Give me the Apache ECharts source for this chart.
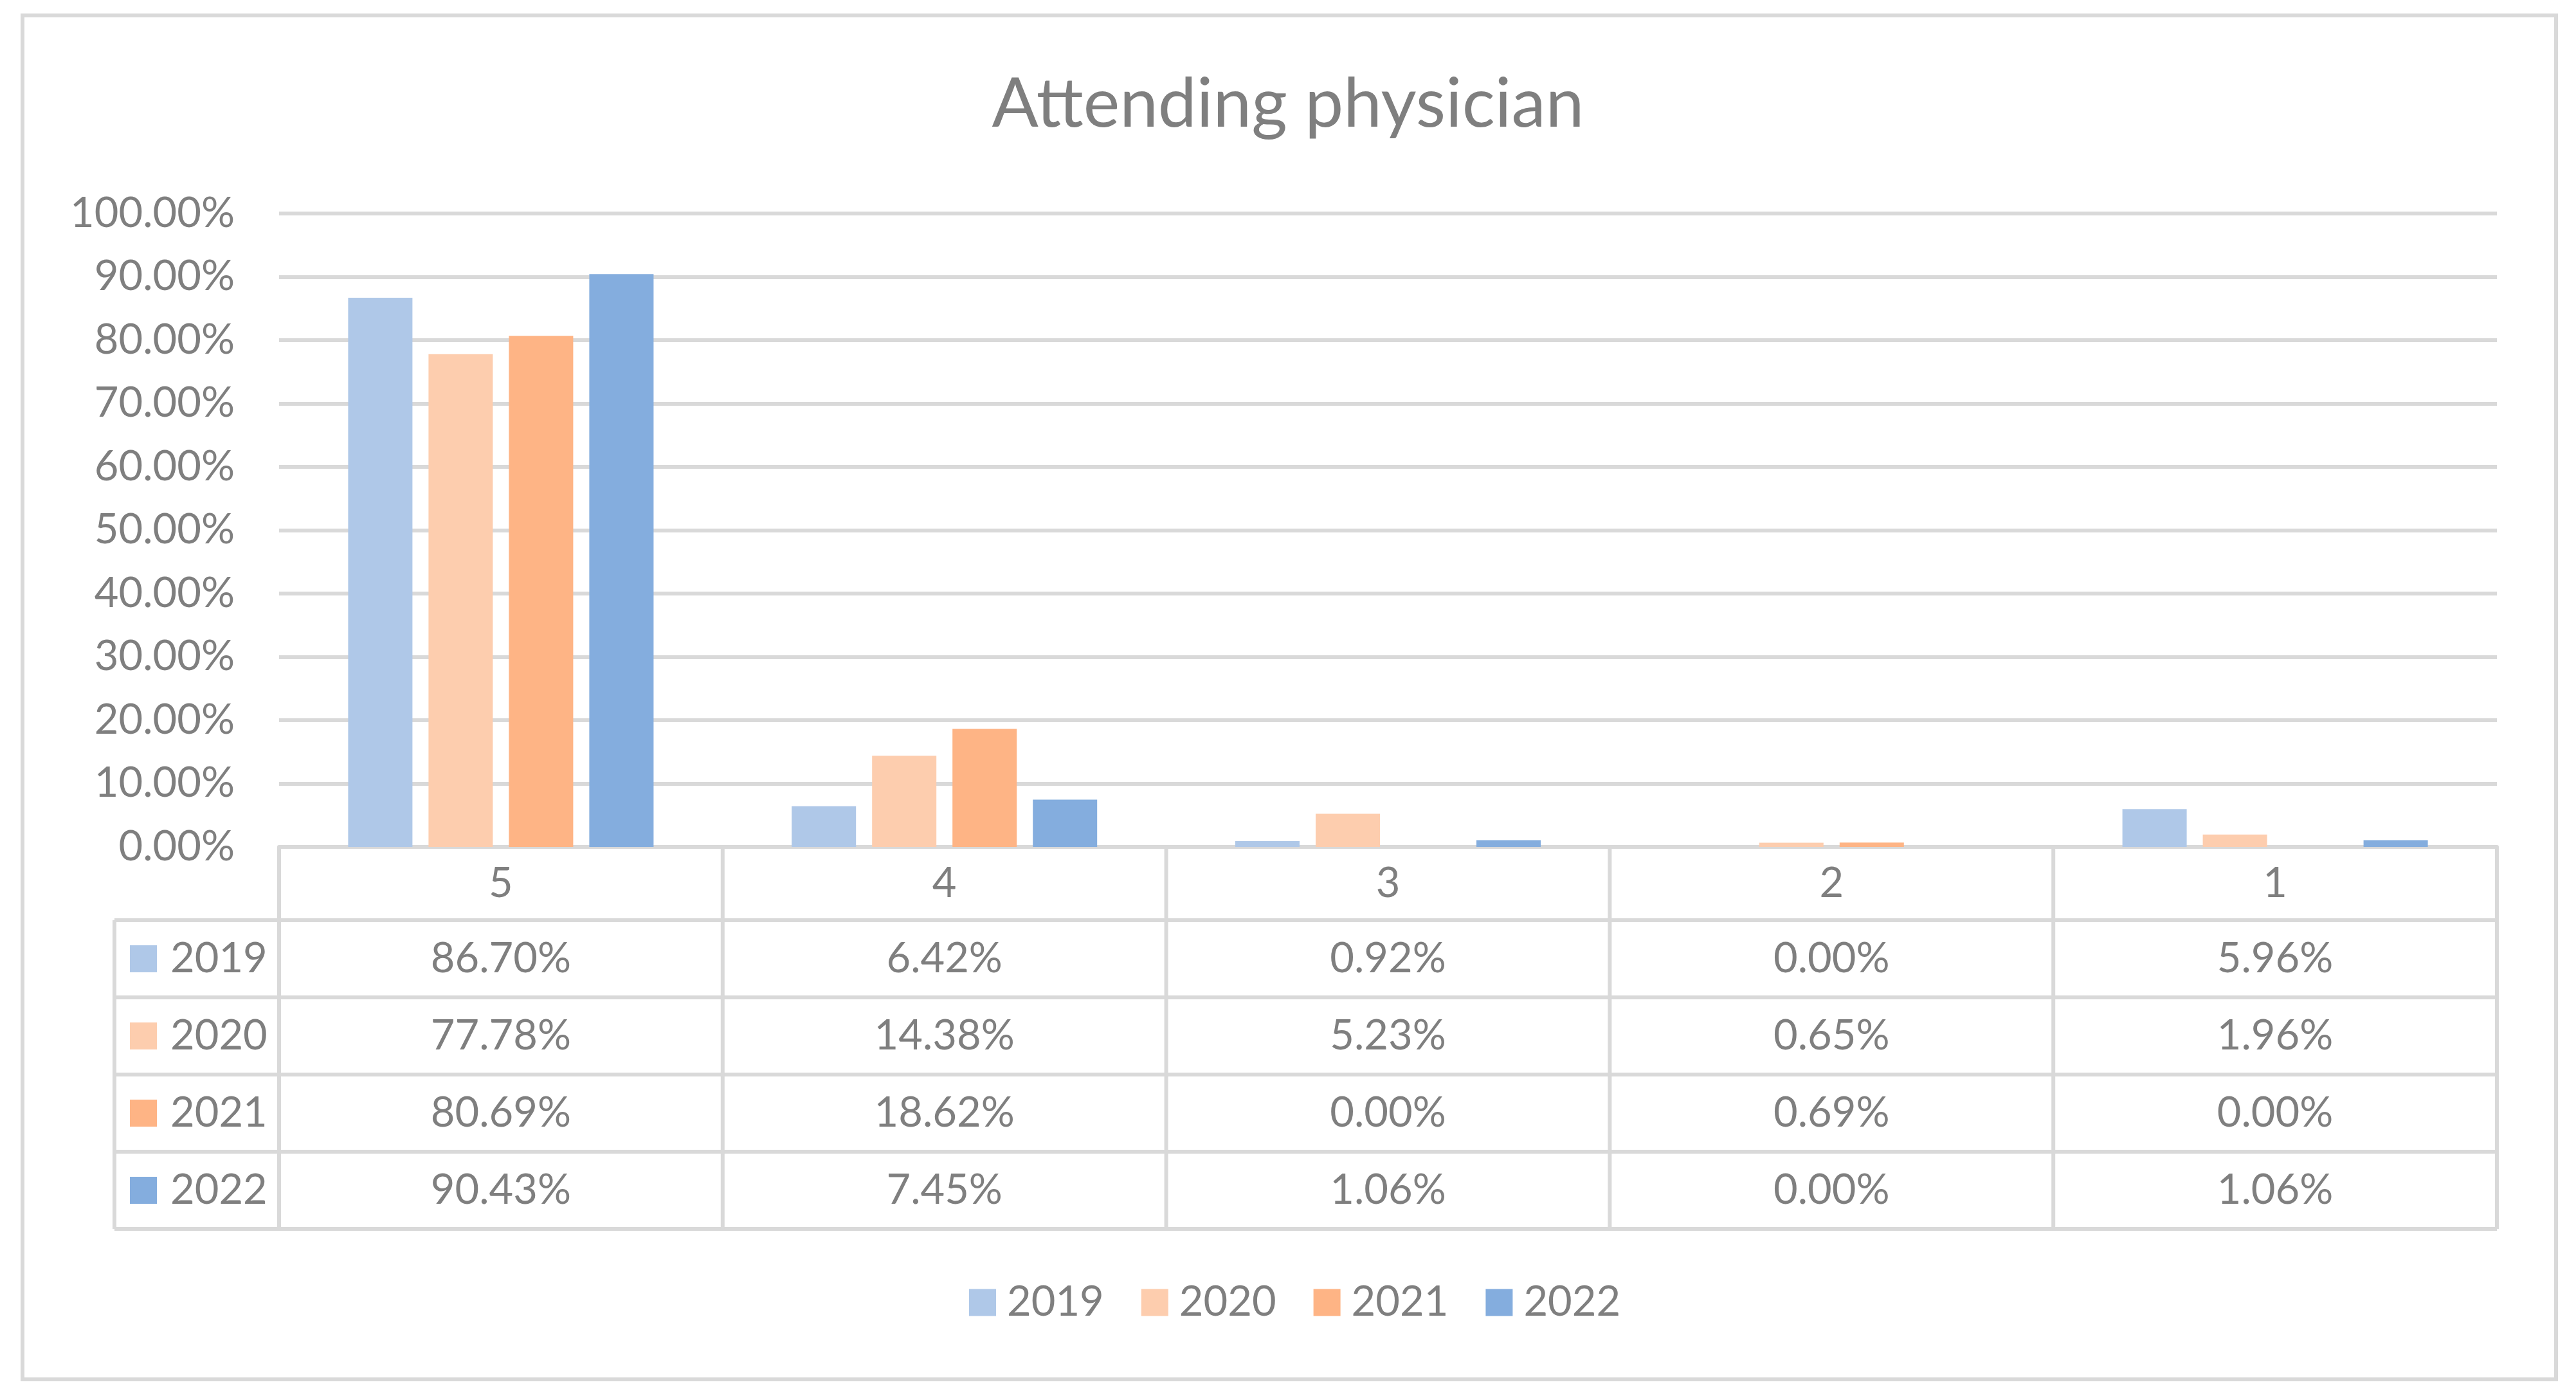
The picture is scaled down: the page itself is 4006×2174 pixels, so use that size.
<!DOCTYPE html>
<html>
<head>
<meta charset="utf-8">
<script src="https://cdn.jsdelivr.net/npm/echarts@6/dist/echarts.min.js"></script>
<style>html,body{margin:0;padding:0;background:#fff}#c{width:4006px;height:2174px}</style>
</head>
<body>
<div id="c"></div>
<script>
const titleText = 'Attending physician';
const categories = ['5', '4', '3', '2', '1'];
const seriesNames = ['2019', '2020', '2021', '2022'];
const v2019 = [86.70, 6.42, 0.92, 0.00, 5.96];
const v2020 = [77.78, 14.38, 5.23, 0.65, 1.96];
const v2021 = [80.69, 18.62, 0.00, 0.69, 0.00];
const v2022 = [90.43, 7.45, 1.06, 0.00, 1.06];
const yTicks = [0, 10, 20, 30, 40, 50, 60, 70, 80, 90, 100];

const seriesValues = [v2019, v2020, v2021, v2022];
const colors = ['#AFC8E8', '#FDCDAE', '#FEB485', '#84ADDE'];
const FONT = 'Lato';
const TXT = '#7f7f7f';
const LINE = '#d9d9d9';
const LW = 6;
const FS = 65;

const chart = echarts.init(document.getElementById('c'), null, {renderer: 'canvas', width: 4006, height: 2174});

const gridLeft = 434, gridRight = 123, gridTop = 332, axisY = 1317;
const plotRight = 4006 - gridRight;

chart.setOption({
  animation: false,
  backgroundColor: '#fff',
  title: {
    text: titleText, left: 'center', top: 104,
    textStyle: {fontFamily: FONT, fontSize: 107, fontWeight: 'normal', color: TXT}
  },
  legend: {
    data: seriesNames, left: 1502, top: 1988,
    icon: 'rect', itemWidth: 42, itemHeight: 42, itemGap: 58,
    textStyle: {fontFamily: FONT, fontSize: FS, color: TXT, lineHeight: 42, padding: [0, 0, 0, 12]}
  },
  grid: {left: gridLeft, right: gridRight, top: gridTop, bottom: 2174 - axisY, containLabel: false},
  xAxis: {
    type: 'category', data: categories,
    axisLine: {show: true, lineStyle: {color: LINE, width: LW}},
    axisTick: {show: false},
    axisLabel: {fontFamily: FONT, fontSize: FS, color: TXT, margin: 25}
  },
  yAxis: {
    type: 'value', min: 0, max: 100, interval: 10,
    axisLine: {show: false}, axisTick: {show: false},
    splitLine: {lineStyle: {color: LINE, width: LW}},
    axisLabel: {fontFamily: FONT, fontSize: FS, color: TXT, margin: 69,
      formatter: v => v.toFixed(2) + '%'}
  },
  series: seriesNames.map((n, i) => ({
    name: n, type: 'bar', data: seriesValues[i], barWidth: 100, barGap: '25%',
    itemStyle: {color: colors[i]}
  }))
});

// Data table below the axis
const centers = categories.map((c, i) => chart.convertToPixel({xAxisIndex: 0}, i));
const band = centers.length > 1 ? centers[1] - centers[0] : (plotRight - gridLeft);
const bounds = [centers[0] - band / 2].concat(centers.map(c => c + band / 2));
const tableLeft = 178;
const rowTops = [1431, 1551, 1671, 1791, 1911];
const g = [];
rowTops.forEach(y => g.push({type: 'line', shape: {x1: tableLeft, y1: y, x2: bounds[bounds.length - 1], y2: y},
  style: {stroke: LINE, lineWidth: LW}}));
g.push({type: 'line', shape: {x1: tableLeft, y1: rowTops[0], x2: tableLeft, y2: rowTops[rowTops.length - 1]},
  style: {stroke: LINE, lineWidth: LW}});
bounds.forEach(x => g.push({type: 'line', shape: {x1: x, y1: axisY, x2: x, y2: rowTops[rowTops.length - 1]},
  style: {stroke: LINE, lineWidth: LW}}));
seriesNames.forEach((n, r) => {
  const yc = (rowTops[r] + rowTops[r + 1]) / 2;
  g.push({type: 'rect', shape: {x: 202, y: yc - 21, width: 42, height: 42}, style: {fill: colors[r]}});
  g.push({type: 'text', x: 265, y: yc, style: {text: n, fontFamily: FONT, fontSize: FS, fill: TXT,
    textAlign: 'left', textVerticalAlign: 'middle'}});
  seriesValues[r].forEach((v, ci) => {
    g.push({type: 'text', x: centers[ci], y: yc, style: {text: v.toFixed(2) + '%', fontFamily: FONT,
      fontSize: FS, fill: TXT, textAlign: 'center', textVerticalAlign: 'middle'}});
  });
});
// outer border
g.push({type: 'rect', shape: {x: 35, y: 24, width: 3940, height: 2121},
  style: {fill: null, stroke: LINE, lineWidth: LW}});
chart.setOption({graphic: [{type: 'group', silent: true, children: g}]});
</script>
</body>
</html>
